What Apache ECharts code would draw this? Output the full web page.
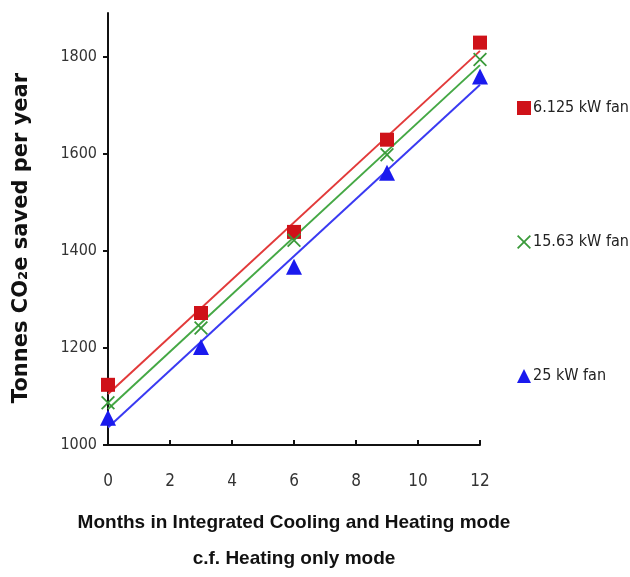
<!DOCTYPE html>
<html><head><meta charset="utf-8">
<script src="https://cdn.jsdelivr.net/npm/echarts@6/dist/echarts.min.js"></script>
<style>html,body{margin:0;padding:0;background:#fff}#c{width:630px;height:577px}</style>
</head><body><div id="c"></div>
<script>
var months = [0, 3, 6, 9, 12];
var fan6 = [1124, 1272, 1439, 1629, 1829];
var fan15 = [1087, 1241, 1422, 1598, 1794];
var fan25 = [1056, 1202, 1367, 1561, 1759];
var seriesNames = ['6.125 kW fan', '15.63 kW fan', '25 kW fan'];
var yTicks = [1000, 1200, 1400, 1600, 1800];
var xTicks = [0, 2, 4, 6, 8, 10, 12];
var yTitle = 'Tonnes CO₂e saved per year';
var xTitle = 'Months in Integrated Cooling and Heating mode\nc.f. Heating only mode';

function fit(xs, ys) {
  var n = xs.length, mx = 0, my = 0;
  for (var i = 0; i < n; i++) { mx += xs[i]; my += ys[i]; }
  mx /= n; my /= n;
  var sxy = 0, sxx = 0;
  for (var j = 0; j < n; j++) { sxy += (xs[j]-mx)*(ys[j]-my); sxx += (xs[j]-mx)*(xs[j]-mx); }
  var m = sxy / sxx, b = my - m*mx;
  var x0 = xs[0], x1 = xs[n-1];
  return [[x0, b + m*x0], [x1, b + m*x1]];
}
function pts(ys) { return months.map(function (m, i) { return [m, ys[i]]; }); }

var condFont = 'DejaVu Sans Condensed, Liberation Sans Narrow, Liberation Sans, sans-serif';
var xPath = 'path://M0,1.8 L1.8,0 L10,8.2 L18.2,0 L20,1.8 L11.8,10 L20,18.2 L18.2,20 L10,11.8 L1.8,20 L0,18.2 L8.2,10 Z';
var cRed = '#cf1219', cGreen = '#3a9a3a', cBlue = '#1a1aee';
var lRed = '#e23a3a', lGreen = '#45a845', lBlue = '#3a3af2';

var chart = echarts.init(document.getElementById('c'));
chart.setOption({
  animation: false,
  grid: { left: 108, right: 150, top: 13, bottom: 132, outerBoundsMode: 'none', containLabel: false },
  graphic: [{
    type: 'text', x: 22, y: 238, rotation: Math.PI / 2,
    style: { text: yTitle, fontFamily: 'DejaVu Sans, sans-serif', fontWeight: 'bold', fontSize: 21, fill: '#111', align: 'center', verticalAlign: 'middle' }
  }],
  legend: {
    orient: 'vertical', left: 512, top: 95, itemGap: 118,
    itemWidth: 14, itemHeight: 14,
    textStyle: { fontFamily: condFont, fontSize: 16, color: '#222', padding: [0,0,0,-3] },
    data: [
      { name: seriesNames[0], icon: 'rect' },
      { name: seriesNames[1], icon: xPath },
      { name: seriesNames[2], icon: 'triangle' }
    ]
  },
  xAxis: {
    type: 'value', min: 0, max: 12, interval: 2,
    name: xTitle,
    nameLocation: 'middle', nameGap: 60,
    nameTextStyle: { fontFamily: 'Liberation Sans, sans-serif', fontWeight: 'bold', fontSize: 19, color: '#111', lineHeight: 36 },
    axisLine: { lineStyle: { color: '#111', width: 2 } },
    axisTick: { inside: true, length: 5, lineStyle: { color: '#111', width: 2 } },
    axisLabel: { customValues: xTicks, fontFamily: condFont, fontSize: 17, color: '#333', margin: 28 },
    splitLine: { show: false }
  },
  yAxis: {
    type: 'value', min: 1000, max: 1890,
    axisLine: { show: true, lineStyle: { color: '#111', width: 2 } },
    axisTick: { show: true, customValues: yTicks, length: 5, lineStyle: { color: '#111', width: 2 } },
    axisLabel: { customValues: yTicks, formatter: function (v) { return String(v); }, fontFamily: condFont, fontSize: 16, color: '#333', margin: 11 },
    splitLine: { show: false }
  },
  series: [
    { name: 'fit1', type: 'line', data: fit(months, fan6), showSymbol: false, lineStyle: { color: lRed, width: 2 }, silent: true, z: 1 },
    { name: 'fit2', type: 'line', data: fit(months, fan15), showSymbol: false, lineStyle: { color: lGreen, width: 2 }, silent: true, z: 1 },
    { name: 'fit3', type: 'line', data: fit(months, fan25), showSymbol: false, lineStyle: { color: lBlue, width: 2 }, silent: true, z: 1 },
    { name: seriesNames[0], type: 'scatter', data: pts(fan6), symbol: 'rect', symbolSize: 14, itemStyle: { color: cRed, opacity: 1 }, z: 3 },
    { name: seriesNames[1], type: 'scatter', data: pts(fan15), symbol: xPath, symbolSize: 14, itemStyle: { color: cGreen, opacity: 1 }, z: 3 },
    { name: seriesNames[2], type: 'scatter', data: pts(fan25), symbol: 'triangle', symbolSize: 16, itemStyle: { color: cBlue, opacity: 1 }, z: 3 }
  ]
});
</script></body></html>
